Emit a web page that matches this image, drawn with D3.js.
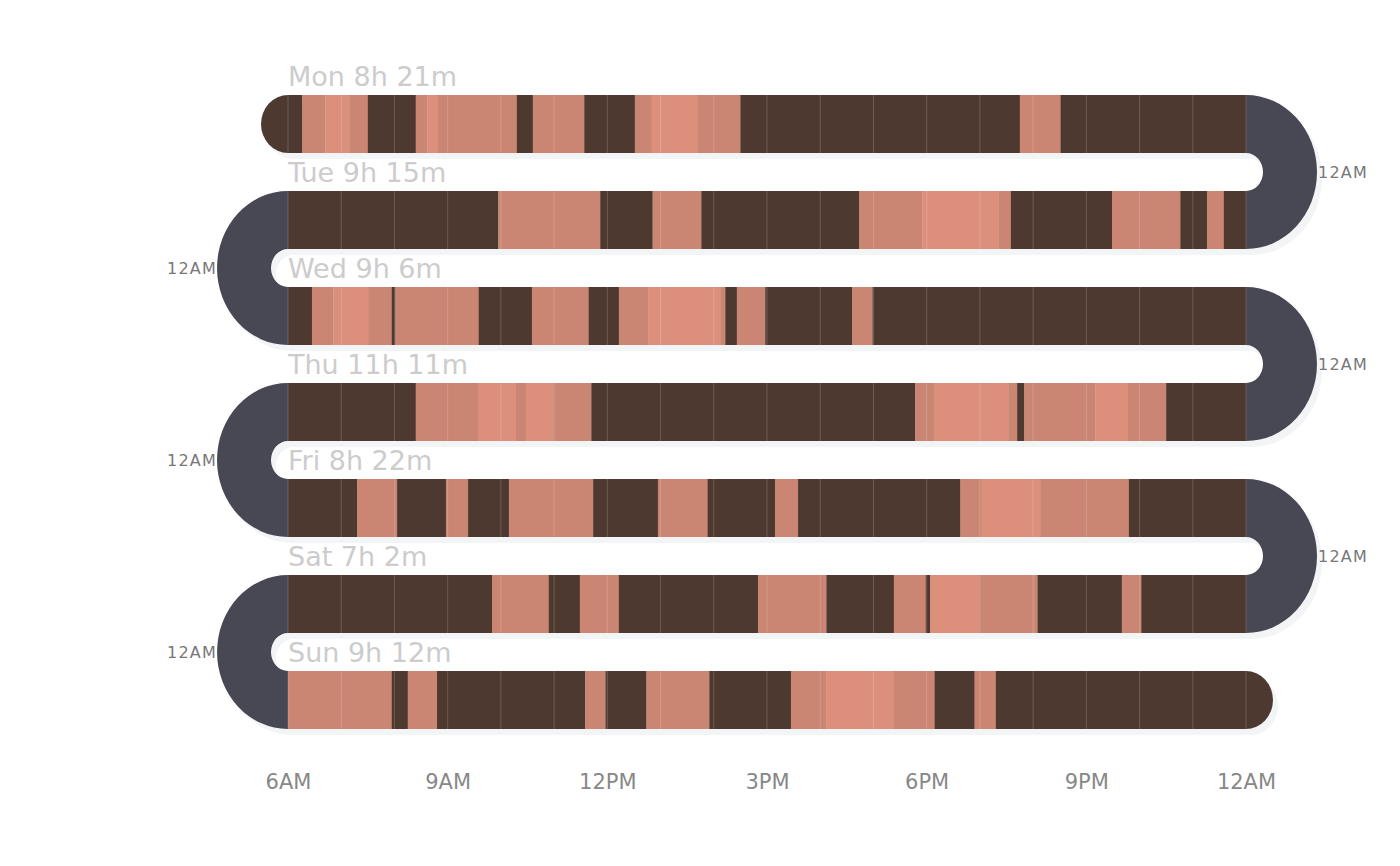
<!DOCTYPE html>
<html>
<head>
<meta charset="utf-8">
<script src="https://cdn.jsdelivr.net/npm/d3@7"></script>
<style>
  body { margin: 0; background: #fff; }
  svg { display: block; font-family: "DejaVu Sans", sans-serif; }
</style>
</head>
<body>
<svg width="1400" height="866"></svg>
<script>
// days and the text shown above each row
var days = ["Mon", "Tue", "Wed", "Thu", "Fri", "Sat", "Sun"];
var totals = ["8h 21m", "9h 15m", "9h 6m", "11h 11m", "8h 22m", "7h 2m", "9h 12m"];

// stage changes per day: [clock time, stage] (0 dark, 1 mid, 2 light), each runs until the next
var mon = [["06:00",0],["06:16",1],["06:42",2],["07:09",1],["07:30",0],["08:24",1],["08:37",2],["08:49",1],["10:18",0],["10:36",1],["11:34",0],["12:31",1],["12:50",2],["13:42",1],["14:30",0],["19:45",1],["20:31",0]];
var tue = [["06:00",0],["09:57",1],["11:52",0],["12:51",1],["13:46",0],["16:44",1],["17:55",2],["19:21",1],["19:35",0],["21:29",1],["22:46",0],["23:16",1],["23:35",0]];
var wed = [["06:00",0],["06:27",1],["06:51",2],["07:31",1],["07:57",0],["08:01",1],["09:35",0],["10:35",1],["11:39",0],["12:13",1],["12:46",2],["14:08",1],["14:13",0],["14:26",1],["14:58",0],["16:36",1],["16:59",0]];
var thu = [["06:00",0],["08:24",1],["09:34",2],["10:17",1],["10:28",2],["10:58",1],["11:42",0],["17:47",1],["18:08",2],["19:32",1],["19:42",0],["19:50",1],["21:10",2],["21:47",1],["22:30",0]];
var fri = [["06:00",0],["07:18",1],["08:03",0],["08:58",1],["09:23",0],["10:09",1],["11:44",0],["12:57",1],["13:53",0],["15:09",1],["15:35",0],["18:38",1],["19:02",2],["20:08",1],["21:48",0]];
var sat = [["06:00",0],["09:50",1],["10:54",0],["11:29",1],["12:13",0],["14:50",1],["16:07",0],["17:23",1],["17:59",0],["18:04",2],["18:59",1],["20:05",0],["21:40",1],["22:02",0]];
var sun = [["06:00",1],["07:57",0],["08:15",1],["08:48",0],["11:35",1],["11:58",0],["12:44",1],["13:55",0],["15:27",1],["16:07",2],["17:23",1],["18:09",0],["18:54",1],["19:18",0]];

var hourTicks = [6, 9, 12, 15, 18, 21, 24];
var tickLabels = ["6AM", "9AM", "12PM", "3PM", "6PM", "9PM", "12AM"];

var stageColors = ["#4e3930", "#ca8672", "#dc907c"];

function init() {
    var week = [mon, tue, wed, thu, fri, sat, sun];
    var svg = d3.select('svg'),
        bandH = 58;

    var x = d3.scaleLinear().domain([6, 24]).range([288, 1246]);
    var y = d3.scalePoint().domain(days).range([95, 671]);

    function hours(t) {
        var p = t.split(":");
        return +p[0] + p[1] / 60;
    }

    var rows = days.map(function(d, i) {
        var ch = week[i];
        return {
            day: d,
            label: d + " " + totals[i],
            segs: ch.map(function(c, j) {
                return { start: hours(c[0]), end: j < ch.length - 1 ? hours(ch[j+1][0]) : 24, stage: c[1] };
            })
        };
    });

    var outRx = 71, inRx = 17, capRx = 27;

    // half ring joining row i to row i+1, alternating right / left
    function turn(i) {
        var top = y(days[i]), bot = y(days[i+1]) + bandH;
        var inTop = top + bandH, inBot = y(days[i+1]);
        var oRy = (bot - top) / 2, iRy = (inBot - inTop) / 2;
        if (i % 2 == 0) {
            var xe = x(24);
            return "M" + xe + "," + top + "A" + outRx + "," + oRy + " 0 0 1 " + xe + "," + bot +
                "L" + xe + "," + inBot + "A" + inRx + "," + iRy + " 0 0 0 " + xe + "," + inTop + "Z";
        }
        var xs = x(6);
        return "M" + xs + "," + top + "A" + outRx + "," + oRy + " 0 0 0 " + xs + "," + bot +
            "L" + xs + "," + inBot + "A" + inRx + "," + iRy + " 0 0 1 " + xs + "," + inTop + "Z";
    }
    var turns = d3.range(days.length - 1);

    function capStart() {
        var t = y(days[0]), xs = x(6);
        return "M" + xs + "," + t + "A" + capRx + "," + (bandH/2) + " 0 0 0 " + xs + "," + (t + bandH) + "Z";
    }
    function capEnd() {
        var t = y(days[days.length-1]), xe = x(24);
        return "M" + xe + "," + t + "A" + capRx + "," + (bandH/2) + " 0 0 1 " + xe + "," + (t + bandH) + "Z";
    }

    // soft shadow of the whole track
    var sh = svg.append('g').attr('transform', 'translate(5,6)').attr('fill', '#f3f4f6');
    sh.selectAll('rect').data(rows).enter().append('rect')
        .attr('x', x(6)).attr('width', x(24) - x(6))
        .attr('y', function(d) { return y(d.day); }).attr('height', bandH);
    sh.selectAll('path.t').data(turns).enter().append('path').attr('class', 't').attr('d', turn);
    sh.append('path').attr('d', capStart());
    sh.append('path').attr('d', capEnd());

    svg.append('g').selectAll('path').data(turns).enter().append('path')
        .attr('d', turn).attr('fill', '#484854');

    svg.append('path').attr('d', capStart()).attr('fill', stageColors[rows[0].segs[0].stage]);
    var lastSegs = rows[rows.length-1].segs;
    svg.append('path').attr('d', capEnd()).attr('fill', stageColors[lastSegs[lastSegs.length-1].stage]);

    var rowG = svg.append('g').selectAll('g').data(rows).enter().append('g')
        .attr('transform', function(d) { return 'translate(0,' + y(d.day) + ')'; });

    rowG.selectAll('rect').data(function(d) { return d.segs; }).enter().append('rect')
        .attr('x', function(s) { return x(s.start); })
        .attr('width', function(s) { return x(s.end) - x(s.start) + 0.3; })
        .attr('height', bandH)
        .attr('fill', function(s) { return stageColors[s.stage]; });

    // hour lines
    rowG.selectAll('line').data(d3.range(6, 25)).enter().append('line')
        .attr('x1', function(h) { return x(h); }).attr('x2', function(h) { return x(h); })
        .attr('y1', 0).attr('y2', bandH)
        .attr('stroke', '#ffffff').attr('stroke-opacity', 0.18).attr('stroke-width', 1);

    rowG.append('text')
        .attr('x', x(6)).attr('y', -9)
        .attr('font-size', 27).attr('fill', '#cccccc')
        .text(function(d) { return d.label; });

    // 12AM marks at every turn
    svg.append('g').selectAll('text').data(turns).enter().append('text')
        .attr('x', function(i) { return i % 2 == 0 ? x(24) + outRx + 1 : x(6) - outRx; })
        .attr('y', function(i) { return (y(days[i]) + y(days[i+1]) + bandH) / 2; })
        .attr('dy', '0.36em')
        .attr('text-anchor', function(i) { return i % 2 == 0 ? 'start' : 'end'; })
        .attr('font-size', 16).attr('letter-spacing', 1.2).attr('fill', '#777777')
        .text('12AM');

    var axis = svg.append('g')
        .attr('transform', 'translate(0,774)')
        .call(d3.axisBottom(x)
            .tickValues(hourTicks)
            .tickSize(0).tickPadding(0)
            .tickFormat(function(d, i) { return tickLabels[i]; }));
    axis.select('.domain').remove();
    axis.selectAll('text')
        .attr('font-family', '"DejaVu Sans", sans-serif')
        .attr('font-size', 21).attr('fill', '#888888');
}
init();
</script>
</body>
</html>
